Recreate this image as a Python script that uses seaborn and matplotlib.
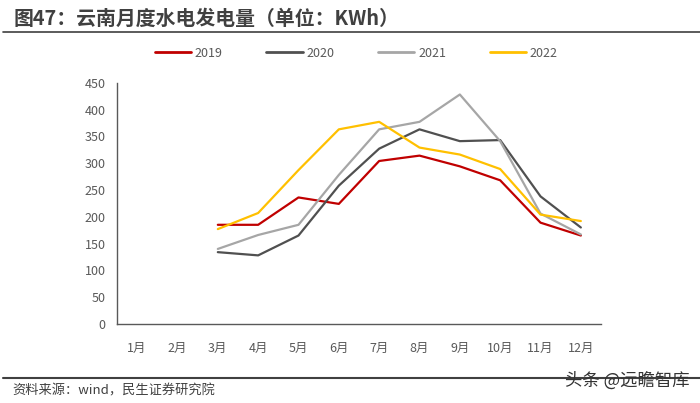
import pandas as pd
import seaborn as sns
import matplotlib.pyplot as plt
from matplotlib.lines import Line2D

# 数据（单位：KWh），1-2月无数据
months = ["1月", "2月", "3月", "4月", "5月", "6月", "7月", "8月", "9月", "10月", "11月", "12月"]
data_months = [3, 4, 5, 6, 7, 8, 9, 10, 11, 12]
v2019 = [185, 185, 236, 224, 304, 314, 294, 268, 189, 165]
v2020 = [134, 128, 165, 258, 327, 363, 341, 343, 238, 180]
v2021 = [140, 166, 185, 278, 363, 377, 428, 341, 206, 167]
v2022 = [177, 207, 287, 363, 377, 329, 316, 289, 204, 192]
years = ["2019", "2020", "2021", "2022"]
colors = ["#C00000", "#505050", "#A6A6A6", "#FFC000"]

rows = []
for y, vals in zip(years, [v2019, v2020, v2021, v2022]):
    for m, v in zip(data_months, vals):
        rows.append({"月份": m - 1, "发电量": v, "年份": y})
df = pd.DataFrame(rows)

sns.set_theme(style="white")
plt.rcParams["font.family"] = ["Noto Sans CJK SC", "DejaVu Sans"]

fig = plt.figure(figsize=(7, 4.03), dpi=100)
ax = fig.add_axes([0.1671, 0.196, 0.6915, 0.5988])

sns.lineplot(data=df, x="月份", y="发电量", hue="年份", palette=colors,
             linewidth=1.6, ax=ax, legend=False)

ax.set_xlim(-0.5, 11.5)
ax.set_ylim(0, 450)
ax.set_yticks(range(0, 451, 50))
ax.set_xticks([i + 0.5 for i in range(-1, 12)])
ax.set_xticklabels([])
ax.set_xticks(range(12), minor=True)
ax.set_xticklabels(months, minor=True)
ax.tick_params(axis="x", which="minor", length=0, pad=13, labelsize=9, labelcolor="#595959")
ax.tick_params(axis="x", which="major", length=3.5, direction="in", color="#595959", width=1)
ax.tick_params(axis="y", length=3.5, direction="in", color="#595959", width=1,
               labelsize=9, labelcolor="#595959", pad=8)
ax.set_xlabel("")
ax.set_ylabel("")
for s in ["top", "right"]:
    ax.spines[s].set_visible(False)
for s in ["left", "bottom"]:
    ax.spines[s].set_color("#595959")
    ax.spines[s].set_linewidth(1)

# 图例
handles = [Line2D([], [], color=c, lw=2) for c in colors]
fig.legend(handles, years, loc="center", bbox_to_anchor=(0.509, 0.868), ncol=4,
           frameon=False, handlelength=2.9, handletextpad=0.3, columnspacing=3.5,
           prop={"size": 9}, labelcolor="#595959")

# 标题与线条
fig.text(0.02, 0.955, "图47：云南月度水电发电量（单位：KWh）", fontsize=14.3,
         fontweight="bold", color="#404040", va="center", ha="left")
fig.add_artist(Line2D([0.004, 1.0], [1 - 32 / 403] * 2, color="#404040", lw=1.2))
fig.add_artist(Line2D([0.004, 1.0], [1 - 378 / 403] * 2, color="#404040", lw=1.5))
fig.text(0.018, 1 - 391 / 403, "资料来源：wind，民生证券研究院", fontsize=9.5,
         color="#404040", va="center", ha="left")
fig.text(0.985, 1 - 381 / 403, "头条 @远瞻智库", fontsize=12.5, color="#333333",
         va="center", ha="right")

fig.savefig("out.png", dpi=100)
